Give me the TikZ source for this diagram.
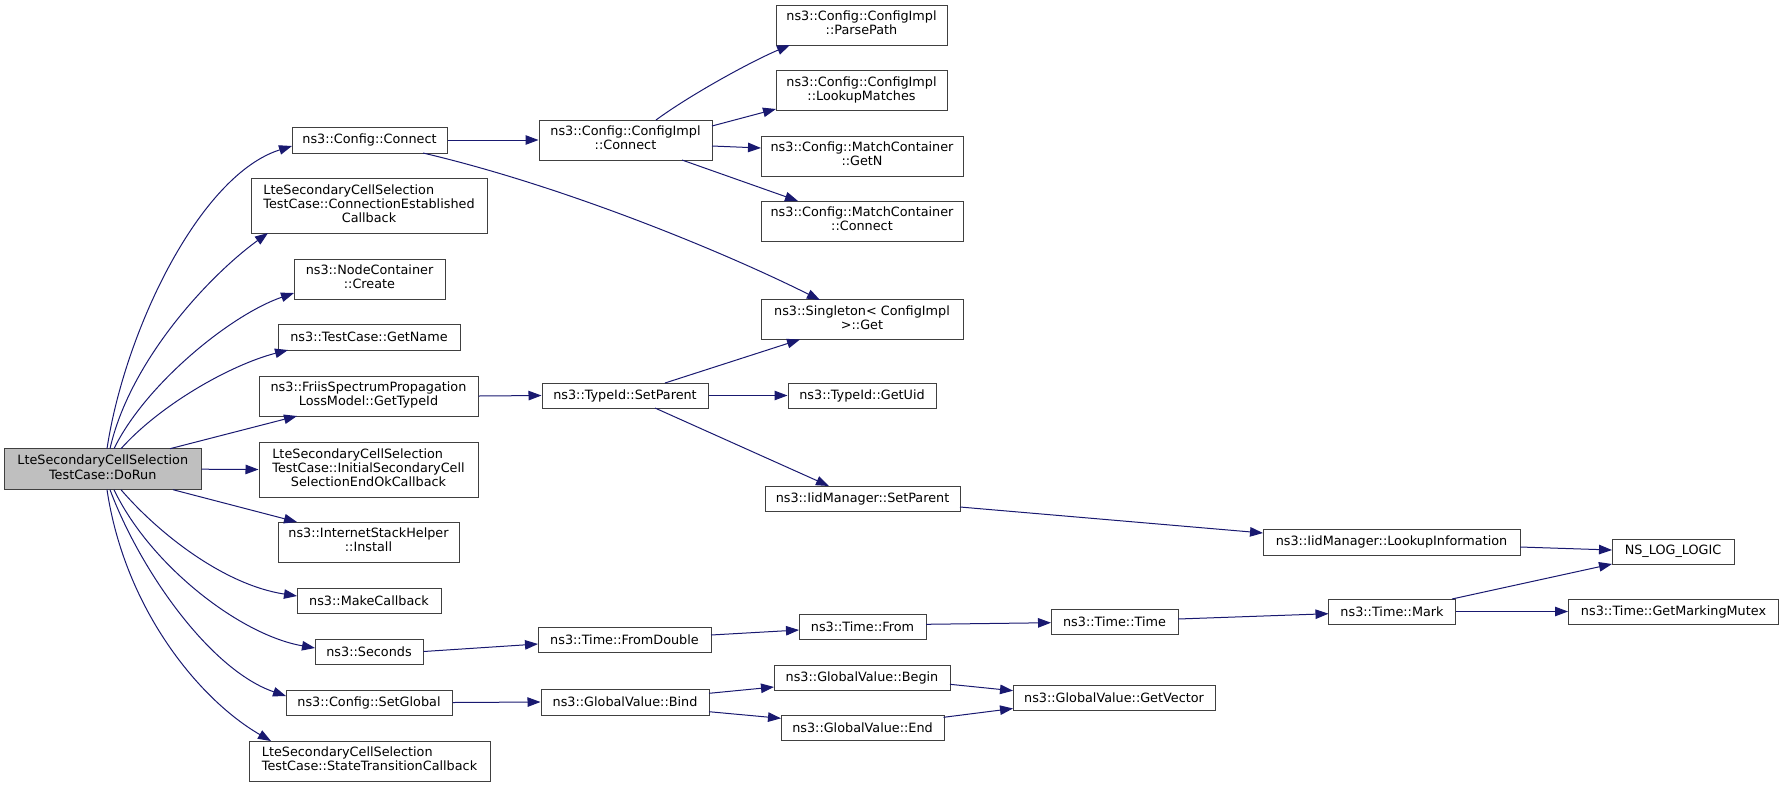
\documentclass[tikz,border=0pt]{standalone}
\usepackage{fontspec}
\setmainfont{DejaVu Sans}
\usetikzlibrary{arrows.meta,calc}
\definecolor{edgeblue}{HTML}{191970}
\definecolor{boxgray}{HTML}{404040}
\definecolor{rootfill}{HTML}{BFBFBF}
\newcommand\twolines[2]{\begin{tabular}{@{}l@{}}#1\\\multicolumn{1}{@{}c@{}}{#2}\end{tabular}}
\newcommand\threelines[3]{\begin{tabular}{@{}l@{}}#1\\#2\\\multicolumn{1}{@{}c@{}}{#3}\end{tabular}}
\begin{document}
\begin{tikzpicture}[x=1pt,y=-1pt,font=\fontsize{12.8}{14.2}\selectfont,
  box/.style={draw=boxgray,fill=white,line width=1pt,inner sep=0pt,align=center},
  edge/.style={draw=edgeblue,line width=1pt,-{Triangle[length=13pt,width=9.5pt]}}]
\useasboundingbox (0,0) rectangle (1784,788);
% column 1
\node[box,fill=rootfill,minimum width=196.5,minimum height=41] (dorun) at (102.75,469.2) {\twolines{LteSecondaryCellSelection}{TestCase::DoRun}};
% column 2
\node[box,minimum width=155,minimum height=26] (cfgconnect) at (369.5,140) {ns3::Config::Connect};
\node[box,minimum width=236,minimum height=55] (connest) at (369,205.5) {\threelines{LteSecondaryCellSelection}{TestCase::ConnectionEstablished}{Callback}};
\node[box,minimum width=151,minimum height=40] (nodecreate) at (369.5,279) {\twolines{ns3::NodeContainer}{::Create}};
\node[box,minimum width=182,minimum height=26] (getname) at (369,337) {ns3::TestCase::GetName};
\node[box,minimum width=219,minimum height=40] (friis) at (368.5,396) {\twolines{ns3::FriisSpectrumPropagation}{LossModel::GetTypeId}};
\node[box,minimum width=219,minimum height=55] (initsec) at (368.5,469.5) {\threelines{LteSecondaryCellSelection}{TestCase::InitialSecondaryCell}{SelectionEndOkCallback}};
\node[box,minimum width=181,minimum height=40] (inetstack) at (368.5,542) {\twolines{ns3::InternetStackHelper}{::Install}};
\node[box,minimum width=144,minimum height=25] (makecb) at (369,601) {ns3::MakeCallback};
\node[box,minimum width=108,minimum height=25] (seconds) at (369,651.5) {ns3::Seconds};
\node[box,minimum width=166,minimum height=25] (setglobal) at (369,702.5) {ns3::Config::SetGlobal};
\node[box,minimum width=241,minimum height=40] (statetrans) at (369.5,761) {\twolines{LteSecondaryCellSelection}{TestCase::StateTransitionCallback}};
% column 3
\node[box,minimum width=173,minimum height=40] (implconnect) at (625.5,140) {\twolines{ns3::Config::ConfigImpl}{::Connect}};
\node[box,minimum width=166,minimum height=25] (typesetparent) at (625,395.5) {ns3::TypeId::SetParent};
\node[box,minimum width=173,minimum height=25] (fromdouble) at (624.5,639.5) {ns3::Time::FromDouble};
\node[box,minimum width=168,minimum height=26] (bind) at (625,702) {ns3::GlobalValue::Bind};
% column 4
\node[box,minimum width=171,minimum height=40] (parsepath) at (861.5,25) {\twolines{ns3::Config::ConfigImpl}{::ParsePath}};
\node[box,minimum width=171,minimum height=40] (lookupmatches) at (861.5,90.5) {\twolines{ns3::Config::ConfigImpl}{::LookupMatches}};
\node[box,minimum width=202,minimum height=40] (getn) at (862,156) {\twolines{ns3::Config::MatchContainer}{::GetN}};
\node[box,minimum width=202,minimum height=40] (mcconnect) at (862,221) {\twolines{ns3::Config::MatchContainer}{::Connect}};
\node[box,minimum width=202,minimum height=40] (singleton) at (862,319.5) {\twolines{ns3::Singleton< ConfigImpl}{>::Get}};
\node[box,minimum width=148,minimum height=25] (getuid) at (862,395.5) {ns3::TypeId::GetUid};
\node[box,minimum width=195,minimum height=25] (iidsetparent) at (862.5,498.5) {ns3::IidManager::SetParent};
\node[box,minimum width=127,minimum height=25] (from) at (862.5,626.5) {ns3::Time::From};
\node[box,minimum width=176,minimum height=25] (begin) at (862,677.5) {ns3::GlobalValue::Begin};
\node[box,minimum width=163,minimum height=25] (gvend) at (862.5,727.5) {ns3::GlobalValue::End};
% column 5
\node[box,minimum width=257,minimum height=26] (lookupinfo) at (1391.5,542) {ns3::IidManager::LookupInformation};
\node[box,minimum width=127,minimum height=25] (timetime) at (1114.5,621.5) {ns3::Time::Time};
\node[box,minimum width=202,minimum height=25] (getvector) at (1114,697.5) {ns3::GlobalValue::GetVector};
% column 6
\node[box,minimum width=122,minimum height=25] (nslog) at (1673,551.5) {NS\_LOG\_LOGIC};
\node[box,minimum width=127,minimum height=25] (mark) at (1392,611.5) {ns3::Time::Mark};
\node[box,minimum width=210,minimum height=25] (mutex) at (1673.5,611.5) {ns3::Time::GetMarkingMutex};
% edges from DoRun
\draw[edge] ($(dorun)+(4.25,-20.5)$) .. controls (125,330) and (200,175) .. ($(cfgconnect)+(-77.5,6)$);
\draw[edge] ($(dorun)+(7.25,-20.5)$) .. controls (130,360) and (210,275) .. ($(connest)+(-101,27.5)$);
\draw[edge] ($(dorun)+(11.25,-20.5)$) .. controls (145,385) and (230,315) .. ($(nodecreate)+(-75.5,14)$);
\draw[edge] ($(dorun)+(18.25,-20.5)$) .. controls (160,405) and (230,365) .. ($(getname)+(-81,13)$);
\draw[edge] ($(dorun)+(67.25,-20.5)$) -- ($(friis)+(-71.5,20)$);
\draw[edge] (dorun.east) -- (initsec.west);
\draw[edge] ($(dorun)+(70.25,20.5)$) -- ($(inetstack)+(-71.5,-20)$);
\draw[edge] ($(dorun)+(18.25,20.5)$) .. controls (160,535) and (225,585) .. ($(makecb)+(-72,-5)$);
\draw[edge] ($(dorun)+(11.25,20.5)$) .. controls (150,565) and (240,635) .. ($(seconds)+(-54,-3.5)$);
\draw[edge] ($(dorun)+(7.25,20.5)$) .. controls (140,570) and (210,670) .. ($(setglobal)+(-83,-6.5)$);
\draw[edge] ($(dorun)+(4.25,20.5)$) .. controls (125,610) and (200,700) .. ($(statetrans)+(-98.5,-20)$);
% other edges
\draw[edge] (cfgconnect.east) -- (implconnect.west);
\draw[edge] ($(cfgconnect)+(53.5,13)$) .. controls (560,185) and (720,250) .. ($(singleton)+(-42,-19.5)$);
\draw[edge] ($(implconnect)+(30.5,-20)$) .. controls (690,95) and (750,62) .. ($(parsepath)+(-71.5,20)$);
\draw[edge] ($(implconnect)+(86.5,-14)$) -- ($(lookupmatches)+(-85.5,18.5)$);
\draw[edge] ($(implconnect)+(86.5,6)$) -- ($(getn)+(-101,-8)$);
\draw[edge] ($(implconnect)+(56.5,20)$) -- ($(mcconnect)+(-64,-20)$);
\draw[edge] (friis.east) -- (typesetparent.west);
\draw[edge] ($(typesetparent)+(40,-12.5)$) -- ($(singleton)+(-62,20)$);
\draw[edge] (typesetparent.east) -- (getuid.west);
\draw[edge] ($(typesetparent)+(30,12.5)$) -- ($(iidsetparent)+(-33.5,-12.5)$);
\draw[edge] ($(iidsetparent)+(97.5,8.5)$) -- ($(lookupinfo)+(-128.5,-9)$);
\draw[edge] ($(lookupinfo)+(128.5,5)$) -- ($(nslog)+(-61,-1.5)$);
\draw[edge] ($(mark)+(60,-12.5)$) -- ($(nslog)+(-61,12.5)$);
\draw[edge] (mark.east) -- (mutex.west);
\draw[edge] (seconds.east) -- ($(fromdouble)+(-86.5,4.5)$);
\draw[edge] ($(fromdouble)+(86.5,-4.5)$) -- ($(from)+(-63.5,3.5)$);
\draw[edge] ($(from)+(63.5,-2.2)$) -- ($(timetime)+(-63.5,1.2)$);
\draw[edge] ($(timetime)+(63.5,-2.5)$) -- ($(mark)+(-63.5,2.2)$);
\draw[edge] (setglobal.east) -- (bind.west);
\draw[edge] ($(bind)+(84,-8.7)$) -- ($(begin)+(-88,9.5)$);
\draw[edge] ($(bind)+(84,9.7)$) -- ($(gvend)+(-81.5,-9.2)$);
\draw[edge] ($(begin)+(88,6.8)$) -- ($(getvector)+(-101,-6.8)$);
\draw[edge] ($(gvend)+(81,-10.2)$) -- ($(getvector)+(-101,11)$);
\end{tikzpicture}
\end{document}
